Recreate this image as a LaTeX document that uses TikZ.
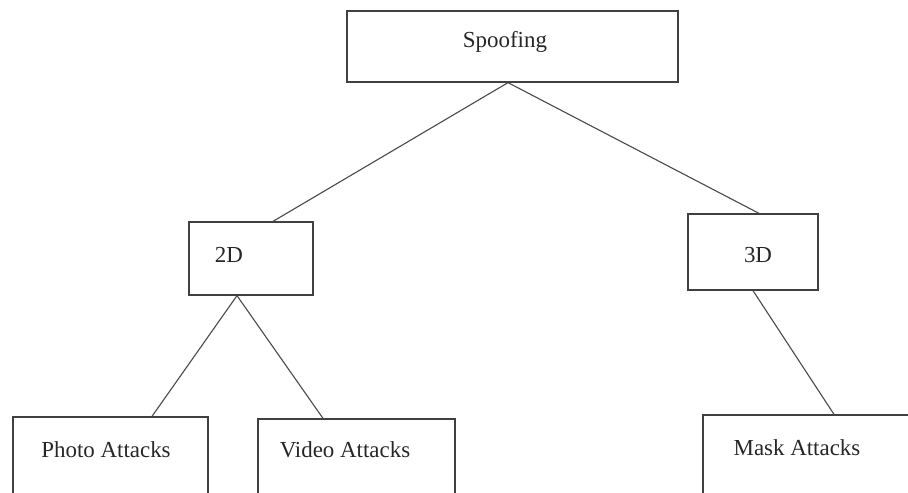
\documentclass[tikz,border=0pt]{standalone}
\usepackage{fontspec}
\setmainfont{Liberation Serif}
\usetikzlibrary{calc}

\tikzset{
	box/.style={draw=black!75, line width=0.9pt, rectangle, inner sep=0pt},
	lbl/.style={inner sep=0pt, text=black!85, font=\fontsize{16.3}{19}\selectfont},
	link/.style={draw=black!70, line width=0.8pt}
}

\begin{document}
\begin{tikzpicture}[x=0.025cm, y=-0.025cm]
	\useasboundingbox (0,0) rectangle (908,493);
	\clip (0,0) rectangle (908,493);
	% boxes
	\node[box, minimum width=331*0.025cm, minimum height=71*0.025cm] (spoof) at (512.5,46.5) {};
	\node[box, minimum width=124*0.025cm, minimum height=73*0.025cm] (twod) at (251,258.5) {};
	\node[box, minimum width=130*0.025cm, minimum height=76*0.025cm] (threed) at (753,252) {};
	\node[box, minimum width=195*0.025cm, minimum height=103*0.025cm] (photo) at (110.5,468.5) {};
	\node[box, minimum width=197*0.025cm, minimum height=101*0.025cm] (video) at (356.5,469.5) {};
	\node[box, minimum width=237*0.025cm, minimum height=105*0.025cm] (mask) at (821.5,467.5) {};
	% labels
	\node[lbl] (spooftxt) at (505,42) {Spoofing};
	\node[lbl] (twodtxt) at (229,255) {2D};
	\node[lbl] (threedtxt) at (758,255) {3D};
	\node[lbl] (phototxt) at (106,450) {Photo Attacks};
	\node[lbl] (videotxt) at (345,450) {Video Attacks};
	\node[lbl] (masktxt) at (797,448) {Mask Attacks};
	% connectors
	\draw[link] ($(spoof.south)+(-4.5,0)$) -- ($(twod.north)+(22,0)$);
	\draw[link] ($(spoof.south)+(-4.5,0)$) -- ($(threed.north)+(6,0)$);
	\draw[link] ($(twod.south)+(-14,0)$) -- ($(photo.north)+(41.5,0)$);
	\draw[link] ($(twod.south)+(-14,0)$) -- ($(video.north)+(-33.5,0)$);
	\draw[link] (threed.south) -- ($(mask.north)+(12.5,0)$);
\end{tikzpicture}
\end{document}
